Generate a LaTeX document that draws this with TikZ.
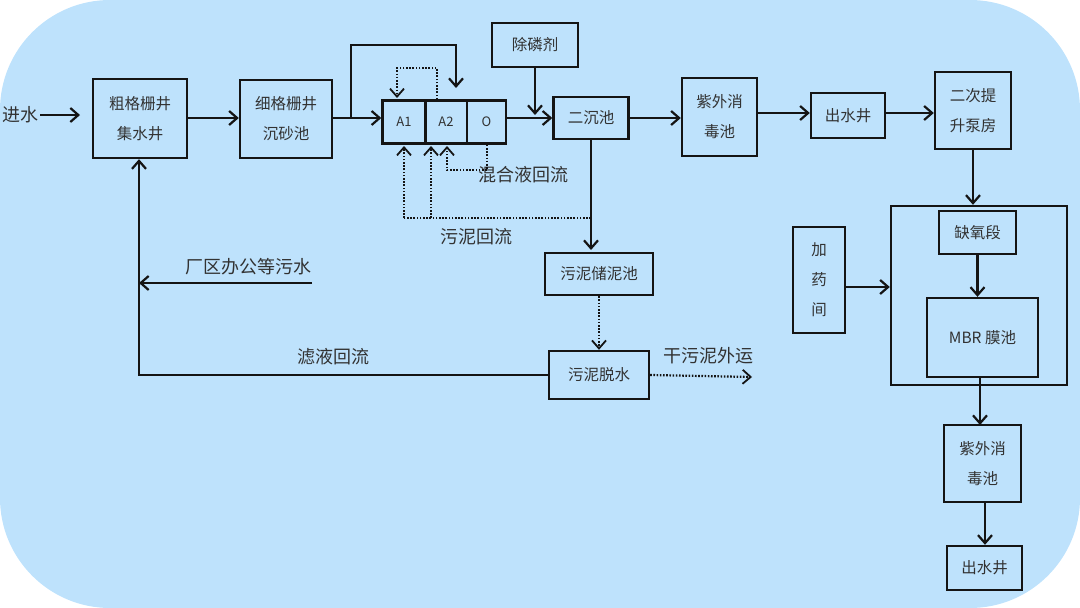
\documentclass[tikz,border=0pt]{standalone}
\usepackage{fontspec}
\newfontfamily\cjk{Noto Sans CJK SC}
\setmainfont{Noto Sans CJK SC}
\usetikzlibrary{arrows.meta}
\definecolor{bgblue}{RGB}{190,226,252}
\definecolor{txt}{RGB}{50,50,50}
\definecolor{ln}{RGB}{20,20,20}
\begin{document}
\begin{tikzpicture}[x=1pt,y=-1pt,
  box/.style={draw=ln,line width=2.4pt,inner sep=0pt,text=txt,align=center,
    font=\cjk\fontsize{15.5}{30}\selectfont},
  small/.style={box,font=\cjk\fontsize{13}{16}\selectfont},
  lbl/.style={text=txt,inner sep=0pt,font=\cjk\fontsize{18}{22}\selectfont},
  flow/.style={draw=ln,line width=2.4pt,-{Straight Barb[length=8pt,width=14pt,line width=2.2pt]}},
  dotflow/.style={draw=ln,line width=2.2pt,dash pattern=on 1.6pt off 1.6pt,
    -{Straight Barb[length=8pt,width=14pt,line width=1.8pt,sep=0pt]}},
  dotline/.style={draw=ln,line width=2.2pt,dash pattern=on 1.6pt off 1.6pt}
]
\useasboundingbox (0,0) rectangle (1080,608);
\fill[bgblue,rounded corners=110pt] (0,0) rectangle (1080,608);

% boxes
\node[box,minimum width=94,minimum height=79] (cg) at (140,118.5) {粗格栅井\\集水井};
\node[box,minimum width=92,minimum height=78] (xg) at (286,119) {细格栅井\\沉砂池};
\node[small,minimum width=43,minimum height=43] (a1) at (404,122) {A1};
\node[small,minimum width=42,minimum height=43] (a2) at (446,122) {A2};
\node[small,minimum width=39,minimum height=43] (o) at (486.5,122) {O};
\node[box,minimum width=86,minimum height=44] (clj) at (535,45) {除磷剂};
\node[box,minimum width=75,minimum height=42] (ec) at (591,118) {二沉池};
\node[box,minimum width=75,minimum height=78] (zw1) at (719.5,117) {紫外消\\毒池};
\node[box,minimum width=74,minimum height=45] (cs1) at (848,115.5) {出水井};
\node[box,minimum width=76,minimum height=77] (ecs) at (973,110.5) {二次提\\升泵房};
\node[draw=ln,line width=2.4pt,minimum width=176,minimum height=179,inner sep=0pt] (big) at (979,295.5) {};
\node[box,minimum width=77,minimum height=43] (qy) at (977.5,232.5) {缺氧段};
\node[box,minimum width=111,minimum height=79,font=\cjk\fontsize{15.5}{20}\selectfont] (mbr) at (982.5,337.5) {MBR 膜池};
\node[box,minimum width=52,minimum height=106] (jy) at (819,280) {加\\药\\间};
\node[box,minimum width=77,minimum height=77] (zw2) at (982.5,463.5) {紫外消\\毒池};
\node[box,minimum width=75,minimum height=44] (cs2) at (984.5,568) {出水井};
\node[box,minimum width=108,minimum height=42] (wc) at (599,274) {污泥储泥池};
\node[box,minimum width=100,minimum height=48] (ws) at (599,375) {污泥脱水};

% labels
\node[lbl] (jin) at (20,115) {进水};
\node[lbl] (cq) at (248,267) {厂区办公等污水};
\node[lbl] (ly) at (333,357) {滤液回流};
\node[lbl] (hh) at (523,175) {混合液回流};
\node[lbl] (wh) at (476,237) {污泥回流};
\node[lbl] (gw) at (708,356) {干污泥外运};

\coordinate (p1) at (351,118);
\coordinate (p2) at (456,88);
\coordinate (cqs) at (312,283);
\coordinate (cqe) at (139,283);
\coordinate (gwe) at (752,377);

% main flow
\draw[flow] (jin.east) ++(2,0) -- (80,115);
\draw[flow] (cg.east |- 0,118) -- (xg.west |- 0,118);
\draw[flow] (xg.east |- 0,118) -- (a1.west |- 0,118);
\draw[flow] (p1) -- (351,45) -- (456,45) -- (p2);
\draw[flow] (o.east |- 0,118) -- (ec.west);
\draw[flow] (clj.south) -- (535,115);
\draw[flow] (ec.east) -- (zw1.west |- ec.east);
\draw[flow] (zw1.east |- 0,113) -- (cs1.west |- 0,113);
\draw[flow] (cs1.east |- 0,113) -- (ecs.west |- 0,113);
\draw[flow] (ecs.south) -- (big.north -| ecs.south);
\draw[flow] (qy.south) -- (qy.south |- mbr.north);
\draw[flow] (jy.east |- 0,287) -- (big.west |- 0,287);
\draw[flow] (980,377) -- (980,425);
\draw[flow] (zw2.south -| 985,0) -- (cs2.north -| 985,0);

% recycle flows
\draw[flow] (ec.south -| 591,0) -- (591,250);
\draw[flow] (ws.west) -- (139,375) -- (cg.south -| 139,0);
\draw[flow] (cqs) -- (cqe);

% dotted
\draw[dotflow] (a2.north -| 437,0) -- (437,68) -- (397,68) -- (397,98);
\draw[dotflow] (o.south -| 487,0) -- (487,170) -- (447,170) -- (447,146);
\draw[dotline] (591,218) -- (404,218);
\draw[dotflow] (404,218) -- (404,146);
\draw[dotflow] (431,218) -- (431,146);
\draw[dotflow] (wc.south) -- (ws.north);
\draw[dotflow] (ws.east) -- (gwe);
\end{tikzpicture}
\end{document}
